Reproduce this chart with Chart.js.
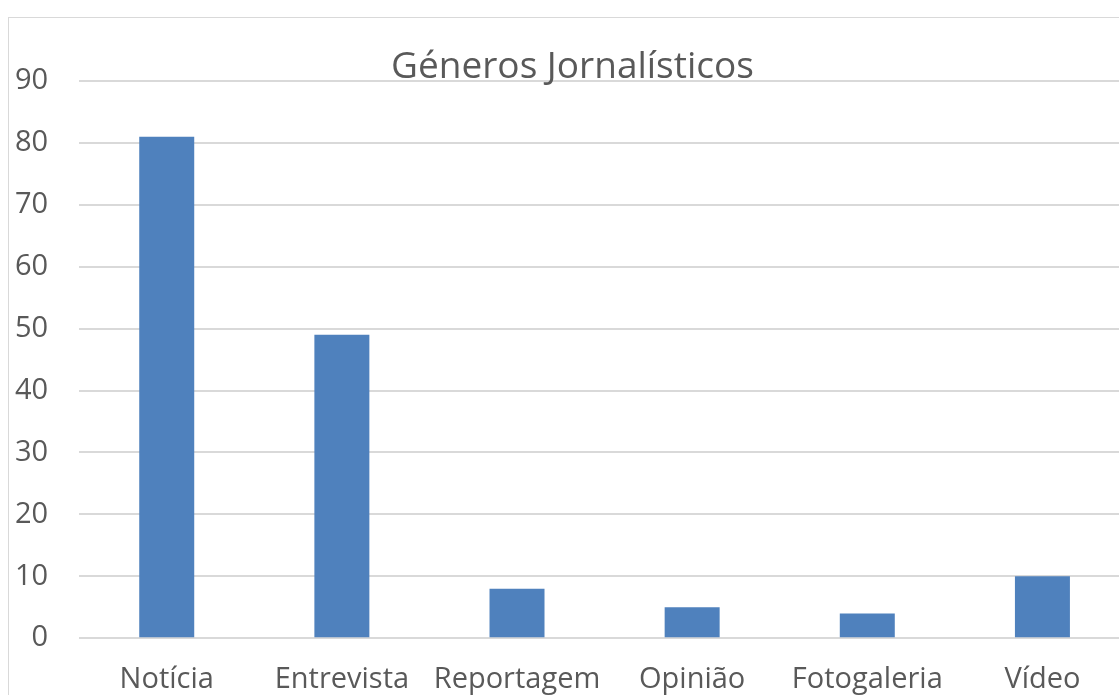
<!DOCTYPE html>
<html>
<head>
<meta charset="utf-8">
<script src="https://cdn.jsdelivr.net/npm/chart.js@4"></script>
<style>
    html, body { margin: 0; padding: 0; background: #fff; overflow: hidden; }
    #box {
        position: absolute;
        left: 8px;
        top: 17px;
        width: 1127px;
        height: 720px;
        border: 1px solid #d9d9d9;
    }
</style>
</head>
<body>
<div id="box"><canvas id="chart" width="1127" height="720"></canvas></div>
<script>
'use strict';

// 数据
const categories = ['Notícia', 'Entrevista', 'Reportagem', 'Opinião', 'Fotogaleria', 'Vídeo'];
const values = [81, 49, 8, 5, 4, 10];
const chartTitle = 'Géneros Jornalísticos';
const yMin = 0;
const yMax = 90;
const yStep = 10;

const textColor = '#595959';
const gridColor = '#d9d9d9';
const barColor = '#4f81bd';

new Chart(document.getElementById('chart'), {
    type: 'bar',
    data: {
        labels: categories,
        datasets: [{
            label: chartTitle,
            data: values,
            backgroundColor: barColor,
            borderWidth: 0,
            categoryPercentage: 1,
            barPercentage: 0.314
        }]
    },
    options: {
        responsive: false,
        animation: false,
        layout: {
            padding: { left: 6, right: 6, top: 0, bottom: 41 }
        },
        plugins: {
            legend: { display: false },
            tooltip: { enabled: false },
            title: {
                display: true,
                text: chartTitle,
                color: textColor,
                font: { family: 'Open Sans', size: 37, weight: 'normal' },
                padding: { top: 27.5, bottom: -8.9 }
            }
        },
        scales: {
            x: {
                grid: { display: false, drawTicks: false },
                border: { display: false },
                ticks: {
                    color: textColor,
                    font: { family: 'Open Sans', size: 29 },
                    padding: 24,
                    maxRotation: 0,
                    autoSkip: false
                },
                // Chart.js 把 padding 算了两次,这里扣掉一次
                afterFit(scale) {
                    scale.paddingLeft = 0;
                    scale.paddingRight = 0;
                    scale.height -= scale.options.ticks.padding;
                }
            },
            y: {
                min: yMin,
                max: yMax,
                grid: { color: gridColor, lineWidth: 2, drawTicks: false },
                border: { display: false },
                ticks: {
                    stepSize: yStep,
                    color: textColor,
                    font: { family: 'Open Sans', size: 29 },
                    padding: 31
                },
                afterFit(scale) {
                    scale.width -= scale.options.ticks.padding;
                }
            }
        }
    }
});
</script>
</body>
</html>
